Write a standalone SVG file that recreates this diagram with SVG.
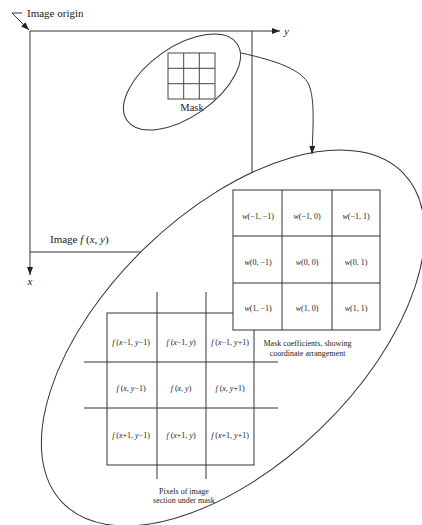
<svg xmlns="http://www.w3.org/2000/svg" width="422" height="525" viewBox="0 0 422 525">
<defs>
<style>
.ln{stroke:#333;stroke-width:1;fill:none}
.gl{stroke:#444;stroke-width:1;fill:none}
.t{font-family:"Liberation Serif","Times New Roman",serif;fill:#222}
.lab{font-size:11px}
.c{font-size:8px;text-anchor:middle}
.cap{font-size:8px;text-anchor:middle}
.i{font-style:italic}
</style>
<marker id="ah" markerUnits="userSpaceOnUse" markerWidth="8" markerHeight="6" refX="8" refY="3" orient="auto">
<path d="M0,0 L8,3 L0,6 z" fill="#222"/>
</marker>
</defs>
<rect width="422" height="525" fill="white"/>

<g id="image-frame">
<line class="ln" x1="252" y1="31" x2="252" y2="180"/>
<line class="ln" x1="30" y1="252" x2="150" y2="252"/>
<text class="t lab" x="50" y="243">Image <tspan class="i">f</tspan> (<tspan class="i">x</tspan>, <tspan class="i">y</tspan>)</text>
</g>

<g id="axes">
<line class="ln" x1="30" y1="31" x2="280" y2="31" marker-end="url(#ah)"/>
<line class="ln" x1="30" y1="31" x2="30" y2="275" marker-end="url(#ah)"/>
<text class="t lab i" x="284" y="35">y</text>
<text class="t lab i" x="30" y="285" text-anchor="middle">x</text>
<text class="t lab" x="27" y="17">Image origin</text>
<polyline class="ln" points="22,13 12,13 29,30" marker-end="url(#ah)"/>
</g>

<g id="mask">
<ellipse class="ln" cx="182" cy="82" rx="67" ry="35" transform="rotate(-35 182 82)"/>
<g class="gl">
<rect x="168" y="53" width="47" height="46"/>
<line x1="183.7" y1="53" x2="183.7" y2="99"/>
<line x1="199.3" y1="53" x2="199.3" y2="99"/>
<line x1="168" y1="68.3" x2="215" y2="68.3"/>
<line x1="168" y1="83.7" x2="215" y2="83.7"/>
</g>
<text class="t" x="192" y="111" font-size="10.5" text-anchor="middle">Mask</text>
</g>

<g id="enlarged-region">
<ellipse cx="233" cy="338" rx="237" ry="126" transform="rotate(-44 233 338)" fill="white" stroke="#333" stroke-width="1"/>
</g>

<g id="pixels">
<g class="ln">
<rect x="107" y="313" width="147" height="152"/>
<line x1="157" y1="292" x2="157" y2="479"/>
<line x1="206" y1="292" x2="206" y2="479"/>
<line x1="84" y1="362" x2="278" y2="362"/>
<line x1="84" y1="408" x2="278" y2="408"/>
</g>
<g class="t c">
<text x="131" y="344.5"><tspan class="i">f</tspan> (<tspan class="i">x</tspan>−1, <tspan class="i">y</tspan>−1)</text>
<text x="181" y="344.5"><tspan class="i">f</tspan> (<tspan class="i">x</tspan>−1, <tspan class="i">y</tspan>)</text>
<text x="230" y="344.5"><tspan class="i">f</tspan> (<tspan class="i">x</tspan>−1, <tspan class="i">y</tspan>+1)</text>
<text x="131" y="390.5"><tspan class="i">f</tspan> (<tspan class="i">x</tspan>, <tspan class="i">y</tspan>−1)</text>
<text x="181" y="390.5"><tspan class="i">f</tspan> (<tspan class="i">x</tspan>, <tspan class="i">y</tspan>)</text>
<text x="230" y="390.5"><tspan class="i">f</tspan> (<tspan class="i">x</tspan>, <tspan class="i">y</tspan>+1)</text>
<text x="131" y="438"><tspan class="i">f</tspan> (<tspan class="i">x</tspan>+1, <tspan class="i">y</tspan>−1)</text>
<text x="181" y="438"><tspan class="i">f</tspan> (<tspan class="i">x</tspan>+1, <tspan class="i">y</tspan>)</text>
<text x="230" y="438"><tspan class="i">f</tspan> (<tspan class="i">x</tspan>+1, <tspan class="i">y</tspan>+1)</text>
</g>
<text class="t cap" x="184" y="493.5">Pixels of image</text>
<text class="t cap" x="184" y="503">section under mask</text>
</g>

<g id="mask-coefficients">
<rect x="233" y="190" width="147" height="140" fill="white" stroke="#333" stroke-width="1"/>
<g class="ln">
<line x1="282" y1="190" x2="282" y2="330"/>
<line x1="332" y1="190" x2="332" y2="330"/>
<line x1="233" y1="236" x2="380" y2="236"/>
<line x1="233" y1="283" x2="380" y2="283"/>
</g>
<g class="t c">
<text x="258" y="218.5"><tspan class="i">w</tspan>(−1, −1)</text>
<text x="307" y="218.5"><tspan class="i">w</tspan>(−1, 0)</text>
<text x="356" y="218.5"><tspan class="i">w</tspan>(−1, 1)</text>
<text x="258" y="265"><tspan class="i">w</tspan>(0, −1)</text>
<text x="307" y="265"><tspan class="i">w</tspan>(0, 0)</text>
<text x="356" y="265"><tspan class="i">w</tspan>(0, 1)</text>
<text x="258" y="311"><tspan class="i">w</tspan>(1, −1)</text>
<text x="307" y="311"><tspan class="i">w</tspan>(1, 0)</text>
<text x="356" y="311"><tspan class="i">w</tspan>(1, 1)</text>
</g>
<text class="t cap" x="307.5" y="346">Mask coefficients, showing</text>
<text class="t cap" x="307.5" y="355.5">coordinate arrangement</text>
</g>

<g id="connectors">
<path class="ln" d="M241,53 C278,61 302,70 309,85 C315,100 313,128 312,154" marker-end="url(#ah)"/>
</g>
</svg>
